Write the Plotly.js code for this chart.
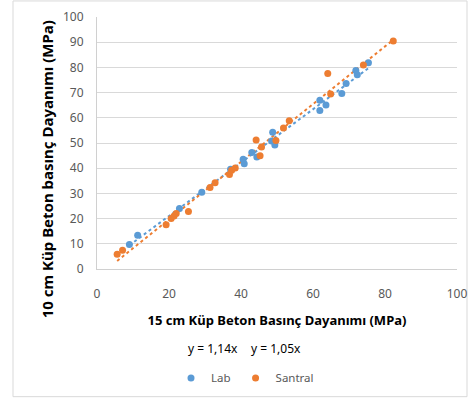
<!DOCTYPE html>
<html>
<head>
<meta charset="utf-8">
<script src="https://cdn.plot.ly/plotly-3.0.1.min.js"></script>
<style>
html,body{margin:0;padding:0;background:#fff;}
#chart{width:469px;height:405px;}
</style>
</head>
<body>
<div id="chart"></div>
<script>
// Lab series (15 cm cube x, 10 cm cube y)
const labX = [9.0, 11.3, 22.9, 29.1, 37.1, 40.6, 40.9, 43.0, 44.4, 48.8, 48.5, 49.4, 61.9, 61.9, 63.6, 68.0, 69.2, 71.9, 72.3, 75.4];
const labY = [9.7, 13.4, 24.0, 30.5, 39.6, 43.6, 41.8, 46.2, 44.4, 54.3, 50.8, 49.2, 67.0, 62.9, 65.1, 69.6, 73.6, 78.8, 77.1, 81.8];
// Santral series
const santralX = [5.6, 7.1, 19.2, 20.6, 21.4, 22.0, 25.4, 31.4, 32.8, 36.8, 37.4, 38.4, 44.2, 45.3, 45.7, 49.7, 51.8, 53.4, 64.1, 64.9, 74.0, 82.3];
const santralY = [5.9, 7.4, 17.6, 20.0, 21.0, 22.0, 22.8, 32.3, 34.2, 37.5, 39.2, 40.1, 51.2, 44.9, 48.4, 51.0, 56.0, 58.8, 77.6, 69.4, 81.0, 90.5];
const seriesNames = ["Lab", "Santral"];
const equations = ["y = 1,14x", "y = 1,05x"];
const xTicks = [0, 20, 40, 60, 80, 100];
const yTicks = [0, 10, 20, 30, 40, 50, 60, 70, 80, 90, 100];

const blue = "#5B9BD5", orange = "#ED7D31";
const font = "'Noto Sans', 'Open Sans', sans-serif";

function fit(xs, ys) {
  const n = xs.length;
  const mx = xs.reduce((a, b) => a + b, 0) / n;
  const my = ys.reduce((a, b) => a + b, 0) / n;
  let sxy = 0, sxx = 0;
  for (let i = 0; i < n; i++) { sxy += (xs[i] - mx) * (ys[i] - my); sxx += (xs[i] - mx) ** 2; }
  const m = sxy / sxx, b = my - m * mx;
  const x0 = Math.min(...xs), x1 = Math.max(...xs);
  return { x: [x0, x1], y: [m * x0 + b, m * x1 + b] };
}
const labFit = fit(labX, labY), santralFit = fit(santralX, santralY);

const traces = [
  { x: labFit.x, y: labFit.y, mode: "lines", line: { color: blue, width: 2, dash: "dot" }, showlegend: false, hoverinfo: "skip" },
  { x: santralFit.x, y: santralFit.y, mode: "lines", line: { color: orange, width: 2, dash: "dot" }, showlegend: false, hoverinfo: "skip" },
  { x: labX, y: labY, mode: "markers", name: seriesNames[0], marker: { color: blue, size: 7 } },
  { x: santralX, y: santralY, mode: "markers", name: seriesNames[1], marker: { color: orange, size: 7 } }
];

const py = p => (273.3 - p) / 256;
const px = p => (p - 97) / 360;

const layout = {
  width: 469, height: 405,
  margin: { l: 97, r: 12, t: 17, b: 132, pad: 0 },
  paper_bgcolor: "#fff", plot_bgcolor: "#fff",
  font: { family: font, color: "#404040", size: 12 },
  xaxis: {
    range: [0, 100], tickvals: xTicks, ticktext: xTicks.map(String),
    showgrid: false, zeroline: false, showline: true, linecolor: "#d0d0d0", linewidth: 1,
    ticks: "", ticklen: 0, ticklabelstandoff: 14, tickfont: { family: font, size: 12, color: "#595959" },
    title: { text: "<b>15 cm Küp Beton Basınç Dayanımı (MPa)</b>", font: { family: font, size: 13, color: "#000" }, standoff: 14 }
  },
  yaxis: {
    range: [0, 100], tickvals: yTicks, ticktext: yTicks.map(String),
    showgrid: true, gridcolor: "#d9d9d9", gridwidth: 1, zeroline: false,
    showline: true, linecolor: "#d0d0d0", linewidth: 1,
    ticks: "", ticklen: 0, ticklabelstandoff: 10, tickfont: { family: font, size: 12, color: "#595959" }
  },
  showlegend: true,
  legend: {
    orientation: "h", x: px(245), xanchor: "center", y: py(384), yanchor: "middle",
    font: { family: font, size: 11.5, color: "#595959" }, itemwidth: 30, traceorder: "normal"
  },
  annotations: [
    { xref: "paper", yref: "paper", x: px(213), y: py(354), xanchor: "center", yanchor: "middle", text: equations[0], showarrow: false, font: { family: font, size: 12, color: "#000" } },
    { xref: "paper", yref: "paper", x: px(276), y: py(354), xanchor: "center", yanchor: "middle", text: equations[1], showarrow: false, font: { family: font, size: 12, color: "#000" } },
    { xref: "paper", yref: "paper", x: px(47), y: py(172), xanchor: "center", yanchor: "middle", text: "<b>10 cm Küp Beton basınç Dayanımı (MPa)</b>", textangle: -90, showarrow: false, font: { family: font, size: 15, color: "#000" } }
  ],
  shapes: [
    { type: "rect", xref: "paper", yref: "paper", x0: px(13), x1: px(467), y0: py(403), y1: py(1), line: { color: "#d9d9d9", width: 1 }, fillcolor: "rgba(0,0,0,0)", layer: "below" }
  ]
};

Plotly.newPlot("chart", traces, layout, { displayModeBar: false, staticPlot: true });
</script>
</body>
</html>
